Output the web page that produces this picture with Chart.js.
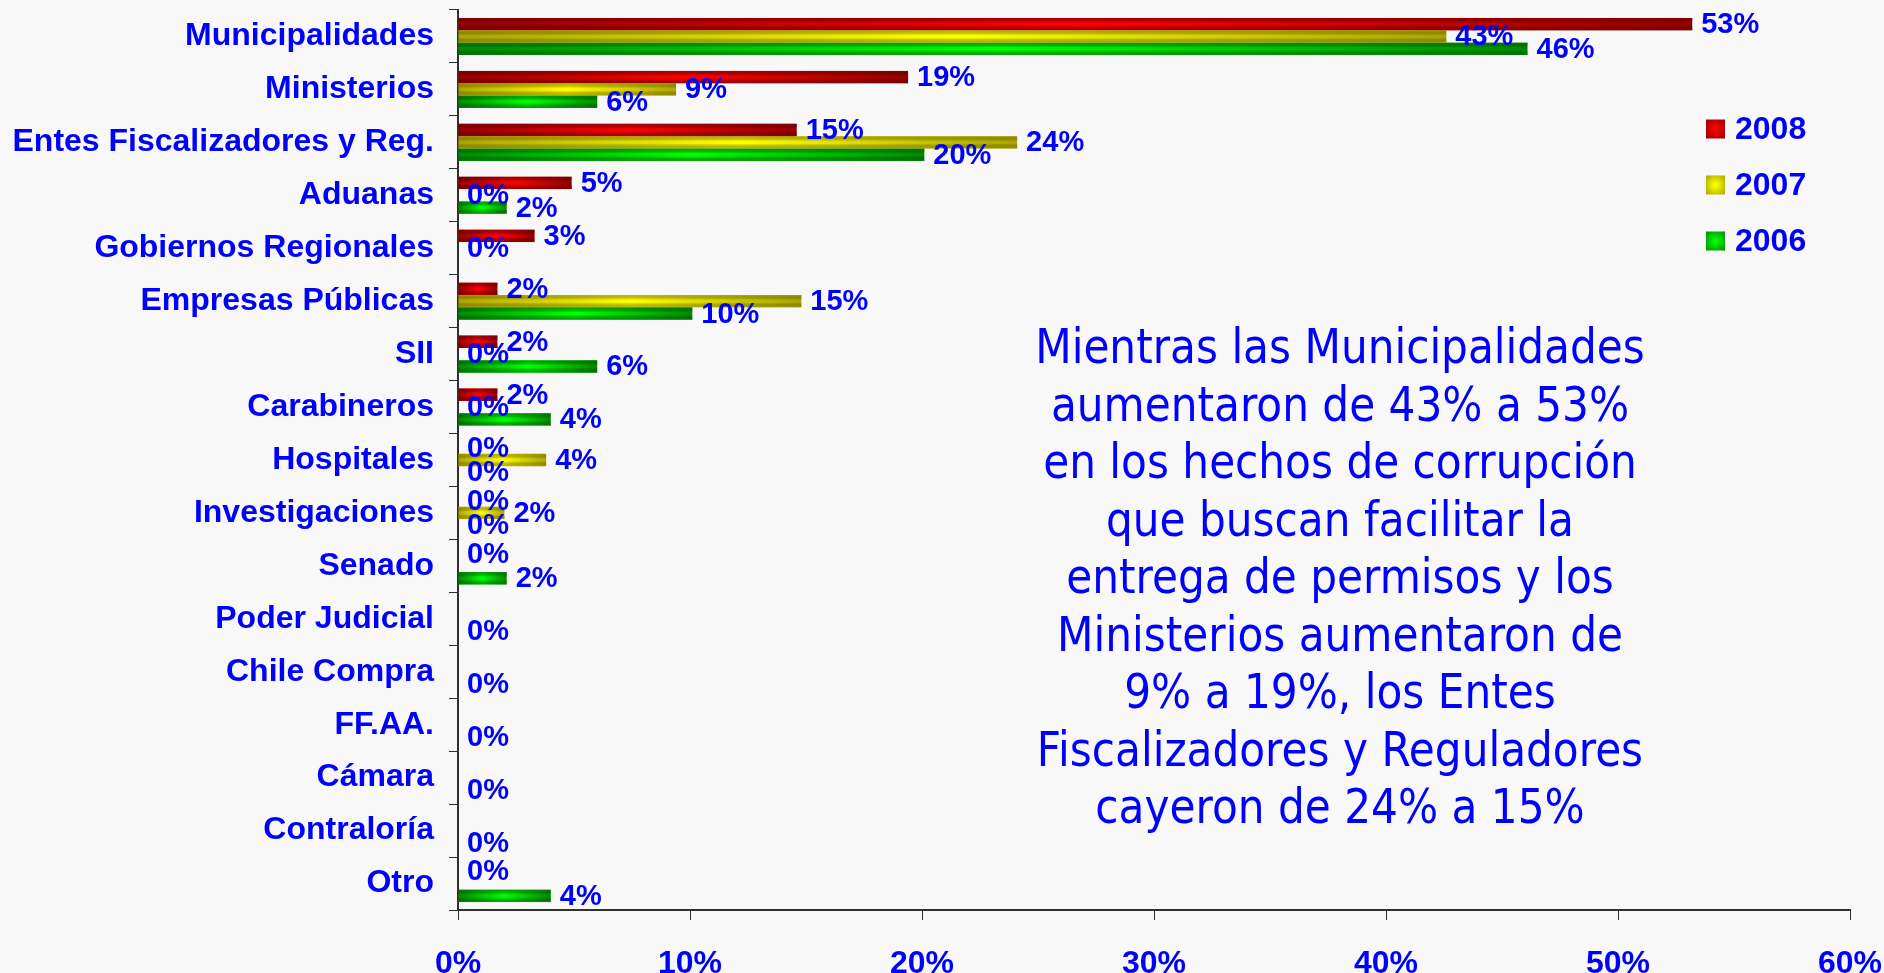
<!DOCTYPE html>
<html>
<head>
<meta charset="utf-8">
<script src="https://cdn.jsdelivr.net/npm/chart.js@4.4.1/dist/chart.umd.min.js"></script>
<style>
  body { margin: 0; background: #f8f8f8; }
  #wrap { position: relative; width: 1884px; height: 973px; }
  #note {
    position: absolute; left: 890px; top: 318px; width: 900px;
    font-family: 'DejaVu Sans', Verdana, sans-serif; font-size: 48px; line-height: 57.5px;
    color: #0000ff; text-align: center; white-space: nowrap;
    transform: scaleX(0.88); transform-origin: 450px 0;
  }
</style>
</head>
<body>
<div id="wrap">
  <canvas id="myChart" width="1884" height="973"></canvas>
  <div id="note">Mientras las Municipalidades<br>aumentaron de 43% a 53%<br>en los hechos de corrupción<br>que buscan facilitar la<br>entrega de permisos y los<br>Ministerios aumentaron de<br>9% a 19%, los Entes<br>Fiscalizadores y Reguladores<br>cayeron de 24% a 15%</div>
</div>
<script>
const categories = ['Municipalidades', 'Ministerios', 'Entes Fiscalizadores y Reg.', 'Aduanas',
  'Gobiernos Regionales', 'Empresas Públicas', 'SII', 'Carabineros', 'Hospitales',
  'Investigaciones', 'Senado', 'Poder Judicial', 'Chile Compra', 'FF.AA.', 'Cámara',
  'Contraloría', 'Otro'];
const years = ['2008', '2007', '2006'];
const values2008 = [53.2, 19.4, 14.6, 4.9, 3.3, 1.7, 1.7, 1.7, 0, 0, 0, null, null, null, null, null, 0];
const values2007 = [42.6, 9.4, 24.1, 0, 0, 14.8, 0, 0, 3.8, 2.0, null, null, null, null, null, null, null];
const values2006 = [46.1, 6.0, 20.1, 2.1, null, 10.1, 6.0, 4.0, 0, 0, 2.1, 0, 0, 0, 0, 0, 4.0];
const xTicks = [0, 10, 20, 30, 40, 50, 60];

const darkCols = ['#960000', '#aca400', '#008a00'];
const brightCols = ['#ff0000', '#ffff00', '#00ff00'];
const shadeCols = ['rgba(140,0,0,0.75)', 'rgba(168,160,0,0.7)', 'rgba(0,130,0,0.7)'];

const FONT = "Arial, 'Liberation Sans', sans-serif";
const BLUE = '#0000ff';

// horizontal dark-bright-dark fill along each bar
function barFill(i) {
  return (c) => {
    const chart = c.chart;
    if (!chart.chartArea || c.raw == null || !c.raw) return darkCols[i];
    const xs = chart.scales.x;
    const x0 = xs.getPixelForValue(0), x1 = xs.getPixelForValue(c.raw);
    const g = chart.ctx.createLinearGradient(x0, 0, x1, 0);
    g.addColorStop(0, darkCols[i]);
    g.addColorStop(0.5, brightCols[i]);
    g.addColorStop(1, darkCols[i]);
    return g;
  };
}

// darken top/bottom edges of bars, then write value labels
const barDecor = {
  id: 'barDecor',
  afterDatasetsDraw(chart) {
    const ctx = chart.ctx;
    ctx.save();
    chart.data.datasets.forEach((ds, i) => {
      chart.getDatasetMeta(i).data.forEach((el, j) => {
        const v = ds.data[j];
        if (v == null || !v) return;
        const p = el.getProps(['x', 'y', 'base', 'height'], true);
        const top = p.y - p.height / 2;
        const g = ctx.createLinearGradient(0, top, 0, top + p.height);
        g.addColorStop(0, shadeCols[i]);
        g.addColorStop(0.4, 'rgba(0,0,0,0)');
        g.addColorStop(0.6, 'rgba(0,0,0,0)');
        g.addColorStop(1, shadeCols[i]);
        ctx.fillStyle = g;
        ctx.fillRect(p.base, top, p.x - p.base, p.height);
      });
    });
    ctx.font = 'bold 29px ' + FONT;
    ctx.fillStyle = BLUE;
    ctx.textAlign = 'left';
    ctx.textBaseline = 'middle';
    chart.data.datasets.forEach((ds, i) => {
      chart.getDatasetMeta(i).data.forEach((el, j) => {
        const v = ds.data[j];
        if (v == null) return;
        const p = el.getProps(['x', 'y'], true);
        ctx.fillText(Math.round(v) + '%', p.x + 9, p.y + 1);
      });
    });
    ctx.restore();
  }
};

// legend on the right, inside the plot
const sideLegend = {
  id: 'sideLegend',
  afterDraw(chart) {
    const ctx = chart.ctx;
    const x = 1706, y0 = 129, gap = 56, s = 19;
    ctx.save();
    chart.data.datasets.forEach((ds, i) => {
      const cy = y0 + i * gap;
      const g = ctx.createRadialGradient(x + s / 2, cy, 1, x + s / 2, cy, s * 0.7);
      g.addColorStop(0, brightCols[i]);
      g.addColorStop(1, darkCols[i]);
      ctx.fillStyle = g;
      ctx.fillRect(x, cy - s / 2, s, s);
      ctx.font = 'bold 32px ' + FONT;
      ctx.fillStyle = BLUE;
      ctx.textAlign = 'left';
      ctx.textBaseline = 'middle';
      ctx.fillText(ds.label, x + 29, cy + 1);
    });
    ctx.restore();
  }
};

const bg = {
  id: 'bg',
  beforeDraw(chart) {
    const ctx = chart.ctx;
    ctx.save();
    ctx.fillStyle = '#f8f8f8';
    ctx.fillRect(0, 0, chart.width, chart.height);
    ctx.restore();
  }
};

const seriesValues = [values2008, values2007, values2006];

const ctx = document.getElementById('myChart').getContext('2d');
const myChart = new Chart(ctx, {
  type: 'bar',
  data: {
    labels: categories,
    datasets: years.map((y, i) => ({
      label: y,
      data: seriesValues[i],
      backgroundColor: barFill(i),
      borderWidth: 0,
      categoryPercentage: 0.7,
      barPercentage: 1.0
    }))
  },
  options: {
    indexAxis: 'y',
    responsive: false,
    devicePixelRatio: 1,
    animation: false,
    layout: { padding: { left: 12, top: 10, right: 34, bottom: 0 } },
    plugins: {
      legend: { display: false },
      tooltip: { enabled: false }
    },
    scales: {
      x: {
        min: xTicks[0],
        max: xTicks[xTicks.length - 1],
        afterBuildTicks: (axis) => { axis.ticks = xTicks.map(v => ({ value: v })); },
        afterFit: (axis) => { axis.height = 63; axis.paddingLeft = 0; axis.paddingRight = 0; },
        grid: { drawOnChartArea: false, drawTicks: true, tickLength: 10, color: '#303030', lineWidth: 1 },
        border: { display: true, color: '#303030', width: 2 },
        ticks: {
          color: BLUE,
          font: { family: FONT, size: 32, weight: 'bold' },
          padding: 25,
          maxRotation: 0,
          callback: (v) => v + '%'
        }
      },
      y: {
        afterFit: (axis) => { axis.width = 446; axis.paddingTop = 0; axis.paddingBottom = 0; },
        grid: { drawOnChartArea: false, drawTicks: true, tickLength: 9, color: '#303030', lineWidth: 1, offset: true },
        border: { display: true, color: '#303030', width: 2 },
        ticks: {
          color: BLUE,
          font: { family: FONT, size: 32, weight: 'bold' },
          padding: 15,
          autoSkip: false
        }
      }
    }
  },
  plugins: [bg, barDecor, sideLegend]
});
</script>
</body>
</html>
